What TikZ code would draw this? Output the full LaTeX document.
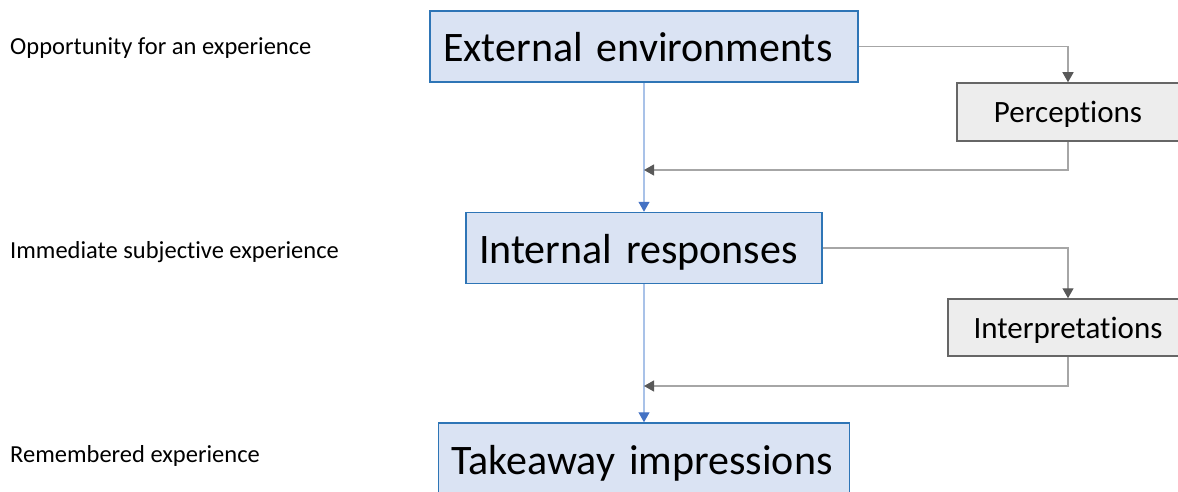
\documentclass[tikz,border=0pt]{standalone}
\usepackage{fontspec}
\setmainfont[Ligatures={NoCommon, NoRare, NoDiscretionary}]{Carlito}
\usetikzlibrary{arrows.meta}
\definecolor{boxblue}{HTML}{DAE3F3}
\definecolor{edgeblue}{HTML}{2E75B6}
\definecolor{lineblue}{HTML}{A9C2E8}
\definecolor{tipblue}{HTML}{4472C4}
\definecolor{boxgrey}{HTML}{EDEDED}
\definecolor{edgegrey}{HTML}{666666}
\definecolor{linegrey}{HTML}{A6A6A6}
\definecolor{tipgrey}{HTML}{595959}
\pgfdeclarelayer{edgelayer}
\pgfdeclarelayer{nodelayer}
\pgfsetlayers{edgelayer,nodelayer,main}
\tikzstyle{none} = []
\tikzstyle{stage label}=[anchor=base west, inner sep=0pt, font=\fontsize{24.5}{29}\selectfont]
\tikzstyle{blue box}=[draw=edgeblue, line width=1.5pt, fill=boxblue, inner xsep=13pt, inner ysep=0pt, minimum height=71pt, text height=31pt, text depth=0pt, align=left, font=\fontsize{42}{50}\selectfont]
\tikzstyle{grey box}=[draw=edgegrey, line width=1.5pt, fill=boxgrey, inner sep=0pt, text height=21.5pt, text depth=0pt, font=\fontsize{31}{37}\selectfont]
\tikzstyle{blue edge}=[draw=lineblue, line width=1.3pt, -{Triangle[length=10pt, width=11pt, color=tipblue]}]
\tikzstyle{grey edge}=[draw=linegrey, line width=1.3pt, -{Triangle[length=10pt, width=11pt, color=tipgrey]}]

\begin{document}
\begin{tikzpicture}[x=1pt, y=-1pt]
	\useasboundingbox (0, 0) rectangle (1178, 492);
	\begin{pgfonlayer}{nodelayer}
		\node [style=stage label] (0) at (10, 55) {Opportunity for an experience};
		\node [style=stage label] (1) at (10, 258) {Immediate subjective experience};
		\node [style=stage label] (2) at (10, 462) {Remembered experience};
		\node [style=blue box, text width=402pt] (3) at (644, 46.5) {External environments};
		\node [style=blue box, text width=330pt] (4) at (644, 248) {Internal responses};
		\node [style=blue box, text width=385pt] (5) at (644, 458.5) {Takeaway impressions};
		\node [style=grey box, minimum width=222pt, minimum height=58pt] (6) at (1068, 112) {Perceptions};
		\node [style=grey box, minimum width=240pt, minimum height=57pt] (7) at (1068, 327.5) {Interpretations};
		\coordinate (8) at (644, 170);
		\coordinate (9) at (644, 386);
	\end{pgfonlayer}
	\begin{pgfonlayer}{edgelayer}
		\draw [style=blue edge] (3) to (4);
		\draw [style=blue edge] (4) to (5);
		\draw [style=grey edge] (3.east) -| (6.north);
		\draw [style=grey edge] (6.south) |- (8);
		\draw [style=grey edge] (4.east) -| (7.north);
		\draw [style=grey edge] (7.south) |- (9);
	\end{pgfonlayer}
\end{tikzpicture}
\end{document}
